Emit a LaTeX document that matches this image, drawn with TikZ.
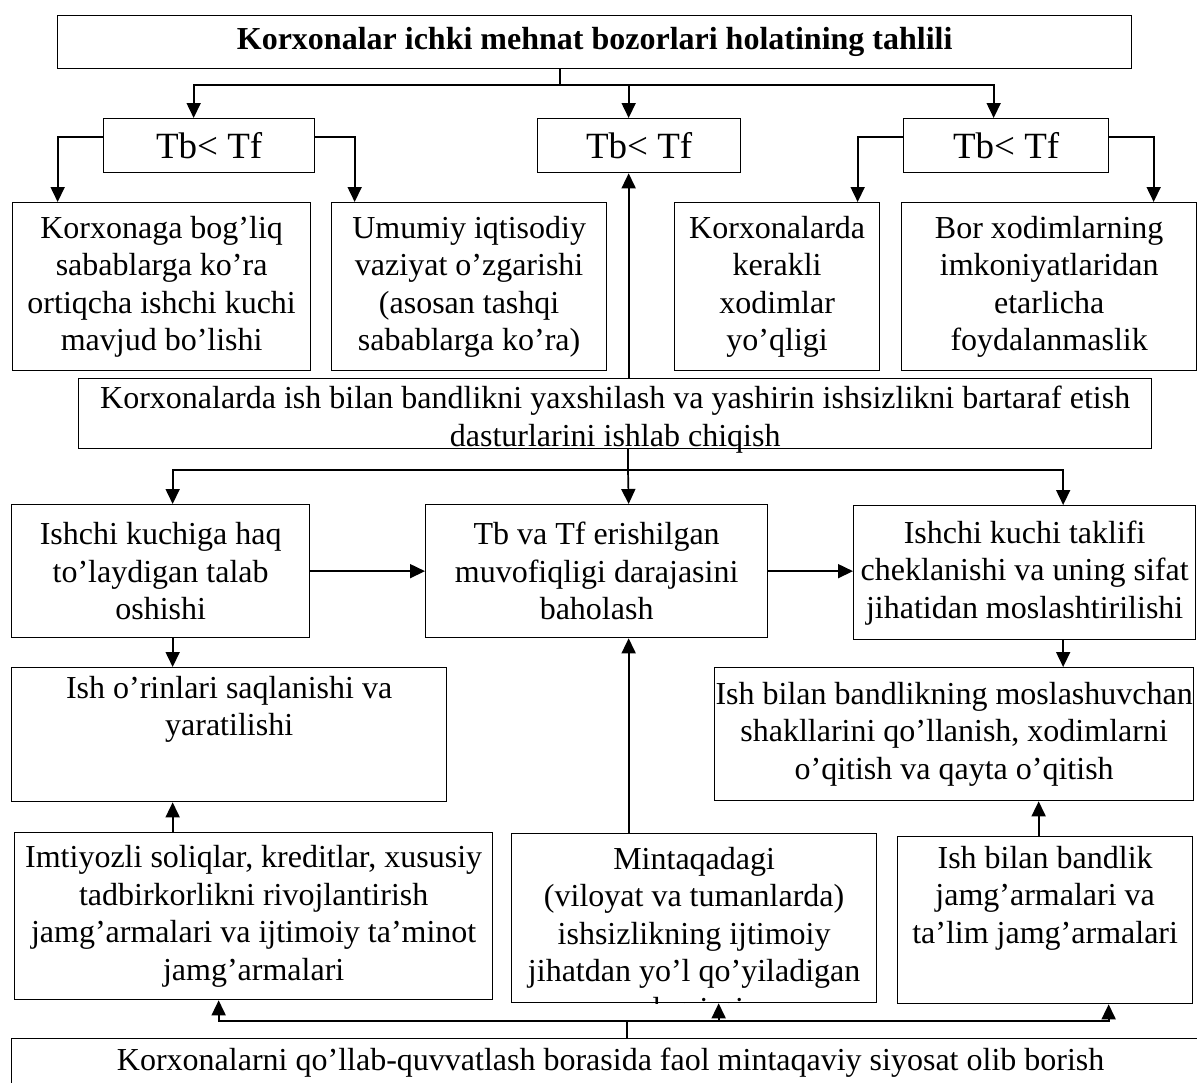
\documentclass[tikz,border=0pt]{standalone}
\usepackage{fontspec}
\setmainfont{Liberation Serif}
\usepackage{tikz}
\usetikzlibrary{arrows.meta,calc,positioning}
\tikzset{
  blok/.style={
    draw,
    line width=1.3pt,
    align=center,
    inner sep=0pt,
    anchor=north west,
    font=\fontsize{32}{37.5}\selectfont
  },
  sarlavha/.style={
    blok,
    font=\fontsize{32}{37.5}\selectfont\bfseries
  },
  shart/.style={
    blok,
    minimum height=54pt,
    font=\fontsize{37}{40}\selectfont
  },
  matn/.style={
    align=center,
    inner sep=0pt,
    anchor=north,
    font=\fontsize{32}{37.5}\selectfont
  },
  chiziq/.style={
    line width=1.7pt
  },
  arrow/.style={
    -{Triangle[length=15pt,width=14pt]},
    line width=1.7pt
  }
}

\begin{document}
\begin{tikzpicture}[x=1pt,y=-1pt]
\useasboundingbox (0,0) rectangle (1197,1082);
\clip (0,0) rectangle (1197,1082);

\node[sarlavha,minimum width=1074pt,minimum height=53pt] (tahlil) at (57,15) {Korxonalar ichki mehnat bozorlari holatining tahlili};

\node[shart,minimum width=211pt] (tbA) at (103,118) {Tb< Tf};
\node[shart,minimum width=203pt] (tbB) at (537,118) {Tb< Tf};
\node[shart,minimum width=205pt] (tbC) at (903,118) {Tb< Tf};

\node[blok,minimum width=298pt,minimum height=168pt] (sabab) at (12,202) {Korxonaga bog’liq\\sabablarga ko’ra\\ortiqcha ishchi kuchi\\mavjud bo’lishi};
\node[blok,minimum width=275pt,minimum height=168pt] (umumiy) at (331,202) {Umumiy iqtisodiy\\vaziyat o’zgarishi\\(asosan tashqi\\sabablarga ko’ra)};
\node[blok,minimum width=205pt,minimum height=168pt] (kerakli) at (674,202) {Korxonalarda\\kerakli\\xodimlar\\yo’qligi};
\node[blok,minimum width=295pt,minimum height=168pt] (imkon) at (901,202) {Bor xodimlarning\\imkoniyatlaridan\\etarlicha\\foydalanmaslik};

\node[blok,minimum width=1073pt,minimum height=70pt] (dastur) at (78,378) {};
\node[matn] at ([yshift=-8pt]dastur.north) {Korxonalarda ish bilan bandlikni yaxshilash va yashirin ishsizlikni bartaraf etish\\dasturlarini ishlab chiqish};

\node[blok,minimum width=298pt,minimum height=133pt] (talab) at (11,504) {Ishchi kuchiga haq\\to’laydigan talab\\oshishi};
\node[blok,minimum width=342pt,minimum height=133pt] (baho) at (425,504) {Tb va Tf erishilgan\\muvofiqligi darajasini\\baholash};
\node[blok,minimum width=342pt,minimum height=134pt] (taklif) at (853,505) {Ishchi kuchi taklifi\\cheklanishi va uning sifat\\jihatidan moslashtirilishi};

\node[blok,minimum width=435pt,minimum height=134pt] (ishorin) at (11,667) {};
\node[matn] at ([yshift=-9pt]ishorin.north) {Ish o’rinlari saqlanishi va\\yaratilishi};
\node[blok,minimum width=479pt,minimum height=133pt] (moslash) at (714,667) {Ish bilan bandlikning moslashuvchan\\shakllarini qo’llanish, xodimlarni\\o’qitish va qayta o’qitish};

\node[blok,minimum width=478pt,minimum height=167pt] (imtiyoz) at (14,832) {Imtiyozli soliqlar, kreditlar, xususiy\\tadbirkorlikni rivojlantirish\\jamg’armalari va ijtimoiy ta’minot\\jamg’armalari};
\node[blok,minimum width=365pt,minimum height=169pt] (mint) at (511,833) {};
\begin{scope}
  \clip (mint.north west) rectangle (mint.south east);
  \node[matn] at ([yshift=-14pt]mint.north) {Mintaqadagi\\(viloyat va tumanlarda)\\ishsizlikning ijtimoiy\\jihatdan yo’l qo’yiladigan\\darajasi};
\end{scope}
\node[blok,minimum width=295pt,minimum height=167pt] (jamgarma) at (897,836) {};
\node[matn] at ([yshift=-10pt]jamgarma.north) {Ish bilan bandlik\\jamg’armalari va\\ta’lim jamg’armalari};

\node[blok,minimum width=1198pt,minimum height=48pt] (siyosat) at (11,1038) {Korxonalarni qo’llab-quvvatlash borasida faol mintaqaviy siyosat olib borish};

\coordinate (tugun1) at (560,85);
\draw[chiziq] (tahlil.south -| tugun1) -- (tugun1);
\draw[arrow] (tugun1) -| ([xshift=-15.5pt]tbA.north);
\draw[arrow] (tugun1) -| ([xshift=-10.5pt]tbB.north);
\draw[arrow] (tugun1) -| ([xshift=-12.5pt]tbC.north);

\draw[arrow] ([yshift=9pt]tbA.west) -| ([xshift=-104pt]sabab.north);
\draw[arrow] ([yshift=9pt]tbA.east) -| ([xshift=-114.5pt]umumiy.north);
\draw[arrow] ([yshift=9pt]tbC.west) -| ([xshift=80.5pt]kerakli.north);
\draw[arrow] ([yshift=9pt]tbC.east) -| ([xshift=104.5pt]imkon.north);

\draw[arrow] ([xshift=13.5pt]dastur.north) -- ([xshift=-10.5pt]tbB.south);

\coordinate (tugun2) at (628,470);
\draw[chiziq] (dastur.south -| tugun2) -- (tugun2);
\draw[arrow] (tugun2) -| ([xshift=12pt]talab.north);
\draw[arrow] (tugun2) -- ([xshift=32pt]baho.north);
\draw[arrow] (tugun2) -| ([xshift=38.5pt]taklif.north);

\draw[arrow] (talab.east) -- (baho.west);
\draw[arrow] (baho.east) -- (baho.east -| taklif.west);
\draw[arrow] ([xshift=12pt]talab.south) -- ([xshift=-56.5pt]ishorin.north);
\draw[arrow] ([xshift=38.5pt]taklif.south) -- ([xshift=109pt]moslash.north);

\draw[arrow] ([xshift=-65.5pt]mint.north) -- ([xshift=32pt]baho.south);
\draw[arrow] ([xshift=-81pt]imtiyoz.north) -- ([xshift=-56.5pt]ishorin.south);
\draw[arrow] ([xshift=-6.5pt]jamgarma.north) -- ([xshift=84.5pt]moslash.south);

\coordinate (tugun3) at (627,1021);
\draw[chiziq] (siyosat.north -| tugun3) -- (tugun3);
\draw[arrow] (tugun3) -| ([xshift=-35pt]imtiyoz.south);
\draw[arrow] (tugun3) -| ([xshift=24.5pt]mint.south);
\draw[arrow] (tugun3) -| ([xshift=63.5pt]jamgarma.south);
\end{tikzpicture}
\end{document}
